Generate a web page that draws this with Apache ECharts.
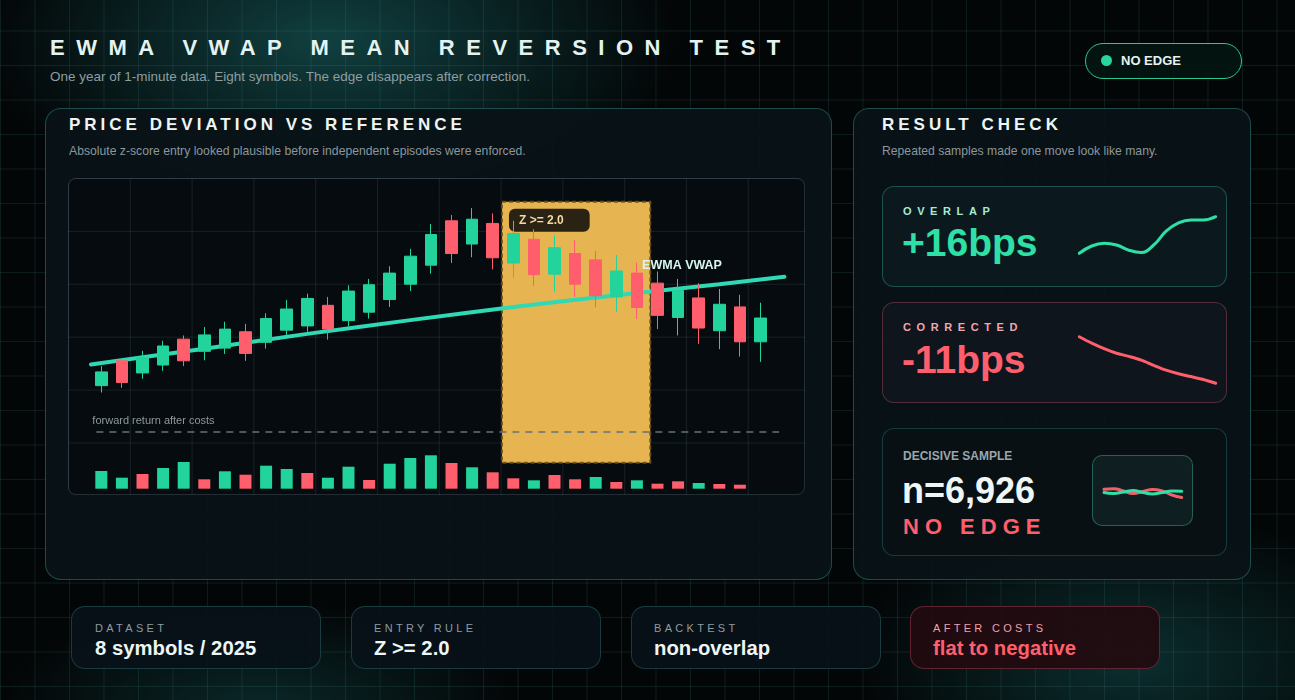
<!DOCTYPE html>
<html>
<head>
<meta charset="utf-8">
<script src="https://cdn.jsdelivr.net/npm/echarts@6/dist/echarts.min.js"></script>
<style>
  html, body { margin: 0; padding: 0; width: 1295px; height: 700px; overflow: hidden; }
  body {
    position: relative;
    font-family: "Liberation Sans", Arial, sans-serif;
    color: #e8f3f1;
    background:
      radial-gradient(ellipse 480px 240px at 330px 40px, rgba(26,102,102,0.6), rgba(0,0,0,0) 72%),
      radial-gradient(ellipse 380px 210px at 1130px 660px, rgba(20,86,86,0.5), rgba(0,0,0,0) 72%),
      radial-gradient(ellipse 360px 150px at 260px 710px, rgba(20,86,86,0.42), rgba(0,0,0,0) 72%),
      #030607;
  }
  .bggrid {
    position: absolute; left: 0; top: 0; width: 1295px; height: 700px;
    background-image:
      linear-gradient(to right, rgba(90,170,170,0.13) 1px, transparent 1px),
      linear-gradient(to bottom, rgba(90,170,170,0.13) 1px, transparent 1px);
    background-size: 34.5px 34.5px;
    background-position: 0 -4px;
  }
  .abs { position: absolute; line-height: 1; white-space: nowrap; }
  .title { left: 50px; top: 36.5px; font-size: 22px; font-weight: bold; letter-spacing: 11.5px; color: #e4f3f1; }
  .sub { left: 50px; top: 70px; font-size: 13.5px; color: #8c9ea3; }
  .pill {
    position: absolute; left: 1085px; top: 43px; width: 157px; height: 36px; box-sizing: border-box;
    border: 1.5px solid #2bc796; border-radius: 18px; background: rgba(4,22,18,0.85);
  }
  .dot { position: absolute; left: 1100.5px; top: 55px; width: 11px; height: 11px; border-radius: 50%; background: #26d69c; }
  .pilltext { left: 1121px; top: 53.5px; font-size: 13px; font-weight: bold; color: #e6f2ef; }
  .panel {
    position: absolute; box-sizing: border-box; border-radius: 16px;
    border: 1px solid rgba(55,160,150,0.42); background: rgba(9,18,24,0.93);
  }
  .ptitle { font-size: 17px; font-weight: bold; letter-spacing: 4px; color: #eef5f4; top: 116px; }
  .psub { font-size: 12.2px; color: #8b979c; top: 145px; }
  .chartbox {
    position: absolute; left: 68px; top: 178px; width: 737px; height: 317px; box-sizing: border-box;
    border: 1px solid rgba(110,140,150,0.28); border-radius: 8px; background-color: #060b0f;
    background-image:
      linear-gradient(to right, rgba(110,140,150,0.16) 1px, transparent 1px),
      linear-gradient(to bottom, rgba(110,140,150,0.16) 1px, transparent 1px);
    background-size: 61.8px 52.9px;
    background-position: -1px -1px;
  }
  #main { position: absolute; left: 68px; top: 178px; width: 737px; height: 317px; }
  .card { position: absolute; box-sizing: border-box; border-radius: 12px; }
  .clabel { font-size: 11px; font-weight: bold; letter-spacing: 5.6px; }
  .cvalue { font-size: 39px; font-weight: bold; }
  .bcard {
    position: absolute; top: 606px; width: 250px; height: 63px; box-sizing: border-box; border-radius: 14px;
    border: 1px solid rgba(60,140,140,0.35); background: rgba(8,18,24,0.9);
  }
  .blabel { top: 622.5px; font-size: 11px; letter-spacing: 3.3px; color: #8e9ca1; }
  .bvalue { top: 637.5px; font-size: 20.3px; font-weight: bold; color: #eef5f4; }
  .spark { position: absolute; }
</style>
</head>
<body>
<div class="bggrid"></div>

<div class="abs title">EWMA VWAP MEAN REVERSION TEST</div>
<div class="abs sub">One year of 1-minute data. Eight symbols. The edge disappears after correction.</div>
<div class="pill"></div>
<div class="dot"></div>
<div class="abs pilltext">NO EDGE</div>

<div class="panel" style="left:45px; top:108px; width:787px; height:472px;"></div>
<div class="abs ptitle" style="left:69px;">PRICE DEVIATION VS REFERENCE</div>
<div class="abs psub" style="left:69px;">Absolute z-score entry looked plausible before independent episodes were enforced.</div>
<div class="chartbox"></div>
<div id="main"></div>

<div class="panel" style="left:853px; top:108px; width:398px; height:472px;"></div>
<div class="abs ptitle" style="left:882px;">RESULT CHECK</div>
<div class="abs psub" style="left:882px;">Repeated samples made one move look like many.</div>

<div class="card" style="left:882px; top:186px; width:345px; height:101px; border:1px solid rgba(50,180,150,0.38); background:rgba(12,27,33,0.85);"></div>
<div class="abs clabel" style="left:903px; top:206px; color:#a6ead6;">OVERLAP</div>
<div class="abs cvalue" style="left:902px; top:223px; color:#2fe0a6;">+16bps</div>
<div id="sparkOverlap" class="spark" style="left:1074px; top:212px; width:148px; height:46px;"></div>

<div class="card" style="left:882px; top:302px; width:345px; height:101px; border:1px solid rgba(210,90,110,0.35); background:rgba(16,22,29,0.85);"></div>
<div class="abs clabel" style="left:903px; top:321.5px; color:#f2a6ae;">CORRECTED</div>
<div class="abs cvalue" style="left:902px; top:340px; color:#ff5f6d;">-11bps</div>
<div id="sparkCorrected" class="spark" style="left:1074px; top:333px; width:148px; height:56px;"></div>

<div class="card" style="left:882px; top:428px; width:345px; height:128px; border:1px solid rgba(60,150,150,0.32); background:rgba(8,16,20,0.85);"></div>
<div class="abs" style="left:903px; top:449.5px; font-size:12px; font-weight:bold; color:#9aa7ac;">DECISIVE SAMPLE</div>
<div class="abs" style="left:902px; top:473px; font-size:36px; font-weight:bold; color:#f0f6f6;">n=6,926</div>
<div class="abs" style="left:903px; top:515.5px; font-size:22px; font-weight:bold; letter-spacing:6px; color:#ff5f6d;">NO EDGE</div>
<div class="card" style="left:1092px; top:455px; width:101px; height:71px; border-radius:10px; border:1px solid rgba(60,180,150,0.45); background:rgba(18,38,38,0.7);"></div>
<div id="sparkDecisive" class="spark" style="left:1092px; top:455px; width:101px; height:71px;"></div>

<div class="bcard" style="left:71px;"></div>
<div class="abs blabel" style="left:95px;">DATASET</div>
<div class="abs bvalue" style="left:95px;">8 symbols / 2025</div>
<div class="bcard" style="left:351px;"></div>
<div class="abs blabel" style="left:374px;">ENTRY RULE</div>
<div class="abs bvalue" style="left:374px;">Z &gt;= 2.0</div>
<div class="bcard" style="left:631px;"></div>
<div class="abs blabel" style="left:654px;">BACKTEST</div>
<div class="abs bvalue" style="left:654px;">non-overlap</div>
<div class="bcard" style="left:910px; border-color:rgba(200,80,100,0.38); background:rgba(34,10,16,0.9);"></div>
<div class="abs blabel" style="left:933px; color:#f0a0a8;">AFTER COSTS</div>
<div class="abs bvalue" style="left:933px; color:#ff5f6d;">flat to negative</div>

<script>
const GREEN = '#22d39b';
const RED = '#ff5e6c';

// candles: [open, close, low, high]
const candles = [
  [102.07, 102.33, 101.94, 102.44],
  [102.54, 102.13, 102.03, 102.57],
  [102.31, 102.60, 102.20, 102.73],
  [102.46, 102.82, 102.35, 102.92],
  [102.95, 102.54, 102.44, 103.02],
  [102.72, 103.03, 102.55, 103.18],
  [102.78, 103.14, 102.67, 103.28],
  [103.09, 102.68, 102.54, 103.24],
  [102.89, 103.34, 102.77, 103.44],
  [103.12, 103.52, 103.02, 103.69],
  [103.20, 103.72, 103.09, 103.81],
  [103.59, 103.14, 102.94, 103.75],
  [103.30, 103.86, 103.19, 103.97],
  [103.46, 103.98, 103.34, 104.09],
  [103.70, 104.20, 103.56, 104.33],
  [103.99, 104.52, 103.86, 104.66],
  [104.35, 104.93, 104.19, 105.13],
  [105.19, 104.57, 104.39, 105.30],
  [104.75, 105.22, 104.50, 105.43],
  [105.14, 104.49, 104.27, 105.33],
  [104.39, 104.95, 104.11, 105.19],
  [104.84, 104.17, 103.96, 105.03],
  [104.18, 104.68, 103.85, 104.91],
  [104.57, 103.99, 103.75, 104.83],
  [104.45, 103.77, 103.55, 104.62],
  [103.75, 104.24, 103.47, 104.54],
  [104.20, 103.55, 103.33, 104.40],
  [104.01, 103.40, 103.14, 104.23],
  [103.36, 103.87, 103.02, 104.09],
  [103.73, 103.16, 102.86, 104.01],
  [103.11, 103.61, 102.76, 103.90],
  [103.56, 102.90, 102.62, 103.79],
  [102.90, 103.35, 102.52, 103.64]
];

const volume = [1770, 1100, 1470, 2070, 2670, 940, 1740, 1400, 2300, 1970,
  1570, 1100, 2200, 870, 2500, 3070, 3340, 2570, 2140, 1640,
  1040, 840, 1370, 940, 1170, 670, 840, 500, 740, 570, 470, 400];
const volumeSide = [1, 1, -1, 1, 1, -1, 1, -1, 1, 1,
  -1, 1, 1, -1, 1, 1, 1, -1, 1, -1,
  -1, 1, -1, -1, 1, -1, 1, -1, -1, 1, -1, -1];

// EWMA VWAP reference, sampled at bar positions
const ewmaX = [-0.5, 5, 10, 15, 20, 25, 30, 33.16];
const ewma = [102.47, 102.77, 103.05, 103.31, 103.56, 103.78, 103.99, 104.13];

// one extra empty slot on the right so the reference line has room
const categories = candles.map((c, i) => 'b' + (i + 1)).concat(['']);

const entryWindow = [19.45, 26.65];   // bars where |z| >= 2
const entryBand = [100.61, 105.55];
const costLevel = 101.19;
const costSpan = [-0.24, 32.9];
const ewmaLabelAt = [28.19, 104.35];

const overlapSpark = [2.7, 10, 12.7, 11, 5.8, 3.5, 11, 24.8, 33.1, 36, 36, 39.3];
const correctedSpark = [49.3, 42.9, 37.4, 32.8, 29.6, 25.9, 20.7, 15.8, 12.2, 9.5, 6.5, 2.7];
const decisiveRed = [10.7, 11.3, 9, 6.5, 8.5, 10.5, 9, 5, 2.5];
const decisiveGreen = [7.5, 6.5, 8, 9.5, 7.5, 6, 7.5, 9, 8.7];

const main = echarts.init(document.getElementById('main'));
main.setOption({
  animation: false,
  grid: [
    { left: 23, right: 13.6, top: 0, bottom: 0 },
    { left: 23, right: 13.6, bottom: 6.3, height: 40 }
  ],
  xAxis: [
    { type: 'category', gridIndex: 0, data: categories, show: false, boundaryGap: true },
    { type: 'value', gridIndex: 0, min: -0.5, max: categories.length - 0.5, show: false },
    { type: 'category', gridIndex: 1, data: categories, show: false, boundaryGap: true }
  ],
  yAxis: [
    { type: 'value', gridIndex: 0, min: 100, max: 106, show: false },
    { type: 'value', gridIndex: 1, min: 0, max: 4000, show: false }
  ],
  series: [
    {
      type: 'candlestick',
      xAxisIndex: 0, yAxisIndex: 0,
      data: candles,
      barWidth: 12,
      z: 3,
      itemStyle: { color: GREEN, color0: RED, borderColor: GREEN, borderColor0: RED, borderWidth: 1 }
    },
    {
      type: 'line',
      xAxisIndex: 1, yAxisIndex: 0,
      data: ewmaX.map((x, i) => [x, ewma[i]]),
      showSymbol: false,
      smooth: 0.3,
      z: 2,
      lineStyle: { width: 4, color: '#2fd9b3', cap: 'round' },
      markArea: {
        silent: true,
        z: 1,
        itemStyle: { color: '#e6b552', borderColor: 'rgba(110,80,20,0.9)', borderWidth: 2, borderType: [4, 3] },
        label: {
          show: true, position: 'insideTopLeft', distance: 8,
          formatter: 'Z >= 2.0', color: '#f4d9a0', fontWeight: 'bold', fontSize: 12,
          fontFamily: 'Liberation Sans',
          backgroundColor: 'rgba(30,24,14,0.94)', borderRadius: 6, padding: [6, 26, 5, 10]
        },
        data: [[{ coord: [entryWindow[0], entryBand[1]] }, { coord: [entryWindow[1], entryBand[0]] }]]
      },
      markLine: {
        silent: true,
        symbol: ['none', 'none'],
        lineStyle: { type: [7, 6], color: '#65727a', width: 1.5 },
        label: {
          show: true, position: 'insideStartTop', distance: [-4, 6],
          formatter: 'forward return after costs', color: '#8c989e', fontSize: 11,
          fontFamily: 'Liberation Sans'
        },
        data: [[{ coord: [costSpan[0], costLevel] }, { coord: [costSpan[1], costLevel] }]]
      },
      markPoint: {
        silent: true,
        symbol: 'circle', symbolSize: 1,
        itemStyle: { color: 'rgba(0,0,0,0)' },
        label: {
          show: true, position: 'inside', formatter: 'EWMA VWAP',
          color: '#d8f6ee', fontWeight: 'bold', fontSize: 12.5, fontFamily: 'Liberation Sans'
        },
        data: [{ coord: ewmaLabelAt }]
      }
    },
    {
      type: 'bar',
      xAxisIndex: 2, yAxisIndex: 1,
      barWidth: 12,
      data: volume.map((v, i) => ({ value: v, itemStyle: { color: volumeSide[i] > 0 ? GREEN : RED } }))
    }
  ]
});

function spark(id, grid, yMax, lines) {
  const c = echarts.init(document.getElementById(id));
  c.setOption({
    animation: false,
    grid: grid,
    xAxis: { type: 'category', show: false, boundaryGap: false, data: lines[0].data.map((v, i) => i) },
    yAxis: { type: 'value', show: false, min: 0, max: yMax },
    series: lines.map(l => ({
      type: 'line', data: l.data, showSymbol: false, smooth: l.smooth,
      lineStyle: { width: 3, color: l.color, cap: 'round' }
    }))
  });
}

spark('sparkOverlap', { left: 5.3, right: 6.3, top: 4, bottom: 2 }, 40,
  [{ data: overlapSpark, color: '#2fe0a6', smooth: 0.45 }]);
spark('sparkCorrected', { left: 5.3, right: 6.3, top: 3, bottom: 3 }, 50,
  [{ data: correctedSpark, color: '#ff5f6d', smooth: 0.3 }]);
spark('sparkDecisive', { left: 12, right: 11.3, top: 25, bottom: 26 }, 20,
  [{ data: decisiveRed, color: '#f0606c', smooth: 0.5 }, { data: decisiveGreen, color: '#2fe0a6', smooth: 0.5 }]);
</script>
</body>
</html>
